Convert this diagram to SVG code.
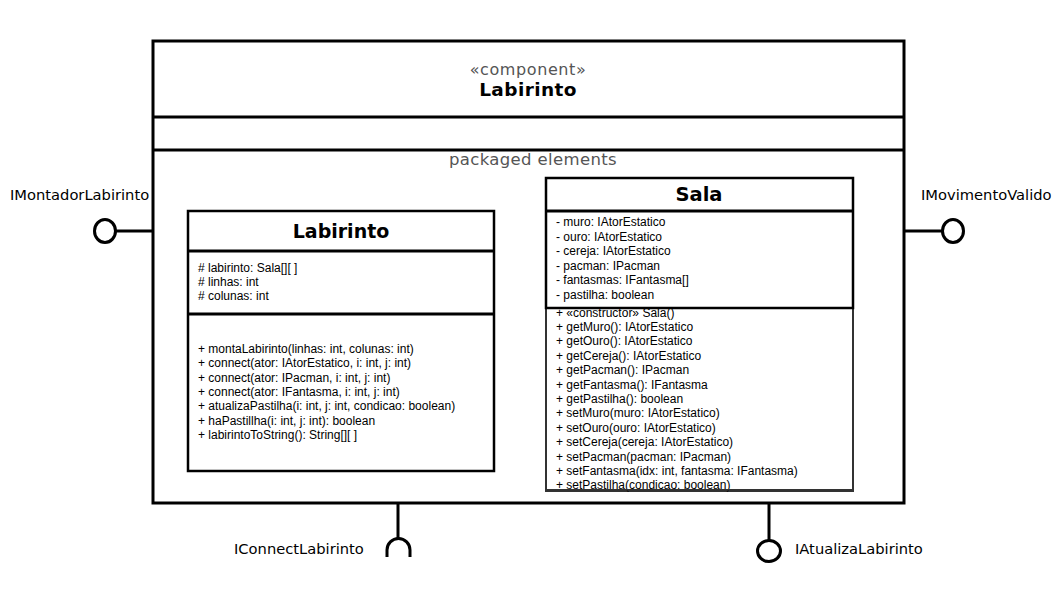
<svg xmlns="http://www.w3.org/2000/svg" width="1058" height="595" viewBox="0 0 1058 595">
<style>
.box{fill:#fff;stroke:#000;stroke-width:3}
.cls{fill:#fff;stroke:#000;stroke-width:2.5}
.ln{stroke:#000;stroke-width:3;fill:none}
.gray{font-family:"DejaVu Sans",Verdana,sans-serif;fill:#555}
.lbl{font-family:"DejaVu Sans",Verdana,sans-serif;font-size:14.7px;fill:#000}
.ttl{font-family:"DejaVu Sans",Verdana,sans-serif;font-weight:bold;fill:#000}
.mem{font-family:"Liberation Sans",Arial,sans-serif;font-size:12px;fill:#000}
</style>
<rect width="1058" height="595" fill="#fff"/>
<g id="component-Labirinto">
<rect class="box" x="153" y="41" width="751" height="462"/>
<line class="ln" x1="153" y1="117" x2="904" y2="117"/>
<line class="ln" x1="153" y1="150" x2="904" y2="150"/>
<text class="gray" x="528" y="75" font-size="16" letter-spacing="0.6" text-anchor="middle">«component»</text>
<text class="ttl" x="528" y="96" font-size="18.5" letter-spacing="0.4" text-anchor="middle">Labirinto</text>
<text class="gray" x="533" y="165" font-size="16.5" letter-spacing="0.35" text-anchor="middle">packaged elements</text>
</g>
<g id="class-Labirinto">
<rect class="cls" x="188" y="211" width="306" height="260"/>
<line class="ln" x1="188" y1="251" x2="494" y2="251" stroke-width="2.5"/>
<line class="ln" x1="188" y1="314" x2="494" y2="314" stroke-width="2.5"/>
<text class="ttl" x="341" y="238" font-size="19" text-anchor="middle">Labirinto</text>
<text class="mem" x="198" y="272"># labirinto: Sala[][ ]</text>
<text class="mem" x="198" y="286"># linhas: int</text>
<text class="mem" x="198" y="300"># colunas: int</text>
<text class="mem" x="198" y="353">+ montaLabirinto(linhas: int, colunas: int)</text>
<text class="mem" x="198" y="367">+ connect(ator: IAtorEstatico, i: int, j: int)</text>
<text class="mem" x="198" y="382">+ connect(ator: IPacman, i: int, j: int)</text>
<text class="mem" x="198" y="396">+ connect(ator: IFantasma, i: int, j: int)</text>
<text class="mem" x="198" y="410">+ atualizaPastilha(i: int, j: int, condicao: boolean)</text>
<text class="mem" x="198" y="425">+ haPastillha(i: int, j: int): boolean</text>
<text class="mem" x="198" y="439">+ labirintoToString(): String[][ ]</text>
</g>
<g id="class-Sala">
<rect x="546" y="308" width="307" height="183" fill="#fff" stroke="#333" stroke-width="2"/>
<text class="mem" x="556" y="317">+ «constructor» Sala()</text>
<text class="mem" x="556" y="331">+ getMuro(): IAtorEstatico</text>
<text class="mem" x="556" y="345">+ getOuro(): IAtorEstatico</text>
<text class="mem" x="556" y="360">+ getCereja(): IAtorEstatico</text>
<text class="mem" x="556" y="374">+ getPacman(): IPacman</text>
<text class="mem" x="556" y="389">+ getFantasma(): IFantasma</text>
<text class="mem" x="556" y="403">+ getPastilha(): boolean</text>
<text class="mem" x="556" y="417">+ setMuro(muro: IAtorEstatico)</text>
<text class="mem" x="556" y="432">+ setOuro(ouro: IAtorEstatico)</text>
<text class="mem" x="556" y="446">+ setCereja(cereja: IAtorEstatico)</text>
<text class="mem" x="556" y="461">+ setPacman(pacman: IPacman)</text>
<text class="mem" x="556" y="475">+ setFantasma(idx: int, fantasma: IFantasma)</text>
<text class="mem" x="556" y="489">+ setPastilha(condicao: boolean)</text>
<rect x="547" y="489" width="305" height="1.5" fill="#333"/>
<rect class="cls" x="546" y="178" width="307" height="130"/>
<line class="ln" x1="546" y1="211" x2="853" y2="211" stroke-width="2.5"/>
<text class="ttl" x="699" y="201" font-size="19.5" text-anchor="middle">Sala</text>
<text class="mem" x="556" y="226">- muro: IAtorEstatico</text>
<text class="mem" x="556" y="241">- ouro: IAtorEstatico</text>
<text class="mem" x="556" y="255">- cereja: IAtorEstatico</text>
<text class="mem" x="556" y="270">- pacman: IPacman</text>
<text class="mem" x="556" y="284">- fantasmas: IFantasma[]</text>
<text class="mem" x="556" y="299">- pastilha: boolean</text>
</g>
<g id="connectors">
<line class="ln" x1="116" y1="231" x2="153" y2="231"/>
<line class="ln" x1="904" y1="231" x2="942" y2="231"/>
<line class="ln" x1="398" y1="503" x2="398" y2="538"/>
<line class="ln" x1="769" y1="503" x2="769" y2="540"/>
</g>
<g id="iface-IMontadorLabirinto">
<ellipse class="ln" cx="105" cy="231" rx="10.5" ry="11.5"/>
<text class="lbl" x="10" y="200">IMontadorLabirinto</text>
</g>
<g id="iface-IMovimentoValido">
<ellipse class="ln" cx="953" cy="231" rx="10.5" ry="11.5"/>
<text class="lbl" x="921" y="200">IMovimentoValido</text>
</g>
<g id="iface-IConnectLabirinto">
<path class="ln" d="M387,557 L387,550 A11.5,11.5 0 0 1 410,550 L410,557"/>
<text class="lbl" x="234" y="554">IConnectLabirinto</text>
</g>
<g id="iface-IAtualizaLabirinto">
<ellipse class="ln" cx="769" cy="551" rx="11.5" ry="10.5"/>
<text class="lbl" x="795" y="554">IAtualizaLabirinto</text>
</g>
</svg>
